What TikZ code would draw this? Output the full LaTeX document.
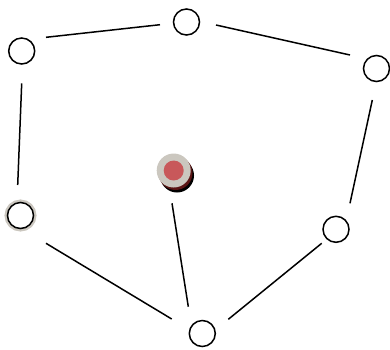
\documentclass[tikz,border=0pt]{standalone}
\usepackage{xcolor}
\usetikzlibrary{calc}
\definecolor{halo}{HTML}{CBC7BF}
\definecolor{redin}{HTML}{C8585A}
\definecolor{shadowred}{HTML}{5A1414}
\begin{document}
\begin{tikzpicture}[x=1pt,y=-1pt,
  vnode/.style={circle,draw=black,fill=white,line width=1.5pt,minimum size=26pt,inner sep=0pt,outer sep=0pt},
  halonode/.style={vnode,preaction={draw=halo,line width=6pt}},
  link/.style={line width=1.5pt}]
\useasboundingbox (0,0) rectangle (390,349);
\node[vnode] (a) at (21.7,51) {};
\node[vnode] (b) at (186.5,22) {};
\node[vnode] (c) at (376.5,68.5) {};
\node[vnode] (d) at (336,229.3) {};
\node[vnode] (e) at (202.3,333.5) {};
\node[halonode] (f) at (20.5,215.5) {};
% central node with shadow
\fill[black] (177,175.5) circle (17pt);
\fill[shadowred] (175.5,173) circle (17pt);
\node[circle,fill=halo,minimum size=34pt,inner sep=0pt,outer sep=0pt] (g) at (173.7,170.5) {};
\node[circle,fill=redin,minimum size=20pt,inner sep=0pt] (gi) at (g.center) {};
\draw[link] ($(a)+(24.3,-13.7)$) -- ($(b)+(-26.5,2.7)$);
\draw[link] ($(b)+(29.5,3)$) -- ($(c)+(-26.5,-13.5)$);
\draw[link] ($(c)+(-4.2,31.5)$) -- ($(d)+(14,-26)$);
\draw[link] ($(d)+(-14.3,14)$) -- ($(e)+(26,-14.2)$);
\draw[link] ($(e)+(-30.6,-14.5)$) -- ($(f)+(25.5,27.8)$);
\draw[link] ($(f)+(-2.8,-30.5)$) -- ($(a)+(0,32.3)$);
\draw[link] ($(g)+(-1.7,32.8)$) -- ($(e)+(-14,-26.8)$);
\end{tikzpicture}
\end{document}
